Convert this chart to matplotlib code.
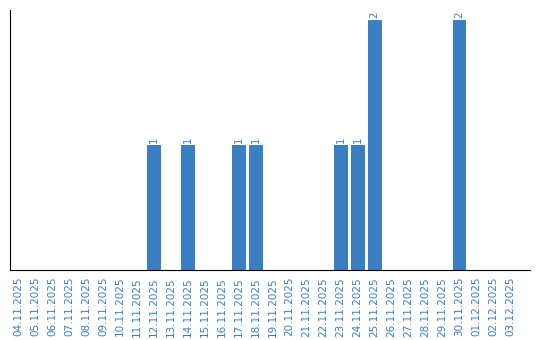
import matplotlib
matplotlib.use("Agg")
import matplotlib.pyplot as plt

dates = ['04.11.2025', '05.11.2025', '06.11.2025', '07.11.2025', '08.11.2025',
         '09.11.2025', '10.11.2025', '11.11.2025', '12.11.2025', '13.11.2025',
         '14.11.2025', '15.11.2025', '16.11.2025', '17.11.2025', '18.11.2025',
         '19.11.2025', '20.11.2025', '21.11.2025', '22.11.2025', '23.11.2025',
         '24.11.2025', '25.11.2025', '26.11.2025', '27.11.2025', '28.11.2025',
         '29.11.2025', '30.11.2025', '01.12.2025', '02.12.2025', '03.12.2025']
counts = [0, 0, 0, 0, 0, 0, 0, 0, 1, 0,
          1, 0, 0, 1, 1, 0, 0, 0, 0, 1,
          1, 2, 0, 0, 0, 0, 2, 0, 0, 0]

blue = '#3a7fc1'

fig = plt.figure(figsize=(5.4, 3.4), dpi=100)
ax = fig.add_axes([10/540, 70/340, 520/540, 260/340])

x = list(range(len(dates)))
ax.bar(x, counts, width=0.82, color=blue)

for i, v in enumerate(counts):
    if v > 0:
        ax.text(i, v + 0.02, str(v), rotation=90, ha='center', va='bottom',
                color=blue, fontsize=7.3)

ax.set_xlim(-0.47, 30.15)
ax.set_ylim(0, 2.08)
ax.set_xticks(x)
ax.set_xticklabels(dates, rotation=90, color=blue, fontsize=7.5)
ax.tick_params(axis='x', length=0, pad=5)
ax.set_yticks([])
ax.spines['top'].set_visible(False)
ax.spines['right'].set_visible(False)

fig.savefig('out.png', dpi=100)
